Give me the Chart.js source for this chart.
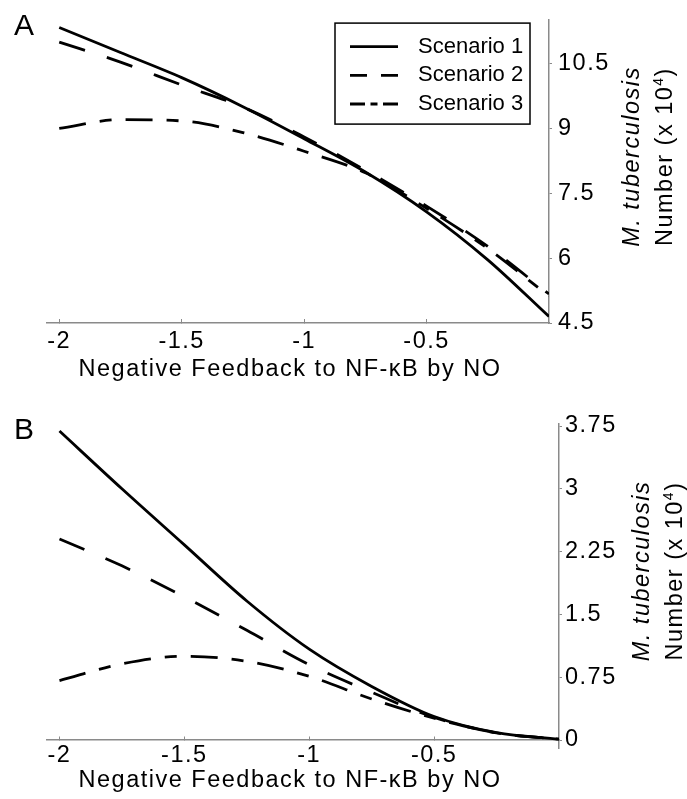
<!DOCTYPE html>
<html>
<head>
<meta charset="utf-8">
<title>M. tuberculosis number vs negative feedback to NF-κB by NO</title>
<script src="https://cdn.jsdelivr.net/npm/chart.js@4/dist/chart.umd.min.js"></script>
<style>
  html, body { margin: 0; padding: 0; background: #fff; }
  #wrap { position: relative; width: 687px; height: 799px; overflow: hidden; background: #fff; }
  canvas { position: absolute; left: 0; }
  #panelA { top: 0; }
  #panelB { top: 400px; }
</style>
</head>
<body>
<div id="wrap">
  <canvas id="panelA" width="687" height="395"></canvas>
  <canvas id="panelB" width="687" height="399"></canvas>
</div>
<script>
// ---- data -------------------------------------------------------------
const feedback = [-2, -1.75, -1.5, -1.25, -1, -0.75, -0.5, -0.25, 0];
const seriesNames = ['Scenario 1', 'Scenario 2', 'Scenario 3'];
const xTicks = [-2, -1.5, -1, -0.5];

// Panel A: bacterial number (x 10^4)
const aScenario1 = [11.33, 10.75, 10.17, 9.50, 8.76, 7.99, 7.07, 5.96, 4.65];
const aScenario2 = [10.99, 10.53, 10.00, 9.49, 8.80, 8.03, 7.20, 6.27, 5.17];
const aScenario3 = [9.00, 9.20, 9.17, 8.90, 8.47, 7.97, 7.15, 6.22, 5.12];
const aYTicks = [4.5, 6, 7.5, 9, 10.5];

// Panel B: bacterial number (x 10^4)
const bScenario1 = [3.69, 3.00, 2.33, 1.66, 1.085, 0.64, 0.28, 0.088, 0.01];
const bScenario2 = [2.40, 2.08, 1.71, 1.31, 0.90, 0.57, 0.27, 0.085, 0.01];
const bScenario3 = [0.71, 0.91, 1.00, 0.94, 0.76, 0.49, 0.26, 0.085, 0.01];
const bYTicks = [0, 0.75, 1.5, 2.25, 3, 3.75];

// ---- styling ----------------------------------------------------------
const FAMILY = '"Liberation Sans", Arial, Helvetica, sans-serif';
const AXIS_COLOR = '#8a8a8a';
const TEXT_SIZE = 23.5;
const TEXT_SPACING = '1.5px';
const lineDash = [[], [27, 23], [27, 14, 12, 14]];
const legendDash = [[], [17, 14], [15, 5.5, 7, 5.5]];
const X_TITLE = 'Negative Feedback to NF-\u03BAB by NO';

Chart.defaults.font.family = FAMILY;
Chart.defaults.color = '#000';

function points(values) {
  return feedback.map((x, i) => ({ x: x, y: values[i] }));
}

function datasets(list) {
  return list.map((values, i) => ({
    label: seriesNames[i],
    data: points(values),
    borderColor: '#000',
    backgroundColor: '#000',
    borderWidth: 2.8,
    borderDash: lineDash[i],
    borderCapStyle: 'butt',
    pointRadius: 0,
    fill: false,
    cubicInterpolationMode: 'monotone'
  }));
}

// Axis titles, panel letter and boxed legend
const decorPlugin = {
  id: 'decor',
  beforeDraw(chart) {
    chart.ctx.letterSpacing = TEXT_SPACING;
  },
  afterDraw(chart, args, opts) {
    const ctx = chart.ctx;
    const area = chart.chartArea;
    const yScale = chart.scales.y;

    // x-axis title, below the tick labels
    ctx.save();
    ctx.letterSpacing = TEXT_SPACING;
    ctx.fillStyle = '#000';
    ctx.font = TEXT_SIZE + 'px ' + FAMILY;
    ctx.textAlign = 'center';
    ctx.textBaseline = 'middle';
    const axisY = opts.xAxisAtZero ? yScale.getPixelForValue(0) : area.bottom;
    ctx.fillText(X_TITLE, area.left + 243, axisY + opts.titleOffset);
    ctx.restore();

    // y-axis title (two rotated lines)
    const yc = (area.top + area.bottom) / 2 - 15;
    ctx.save();
    ctx.letterSpacing = TEXT_SPACING;
    ctx.fillStyle = '#000';
    ctx.translate(yScale.left + 89.5, yc);
    ctx.rotate(-Math.PI / 2);
    ctx.textBaseline = 'alphabetic';
    ctx.textAlign = 'center';
    ctx.font = 'italic ' + TEXT_SIZE + 'px ' + FAMILY;
    ctx.fillText('M. tuberculosis', 0, 0);

    const line2 = 33.5;
    const mainFont = TEXT_SIZE + 'px ' + FAMILY;
    const supFont = '14px ' + FAMILY;
    ctx.textAlign = 'left';
    ctx.font = mainFont;
    const w1 = ctx.measureText('Number (x 10').width;
    const w3 = ctx.measureText(')').width;
    ctx.font = supFont;
    const w2 = ctx.measureText('4').width;
    let cx = -(w1 + w2 + w3) / 2;
    ctx.font = mainFont;
    ctx.fillText('Number (x 10', cx, line2);
    cx += w1;
    ctx.font = supFont;
    ctx.fillText('4', cx, line2 - 9);
    cx += w2;
    ctx.font = mainFont;
    ctx.fillText(')', cx, line2);
    ctx.restore();

    // panel letter
    ctx.save();
    ctx.letterSpacing = '0px';
    ctx.fillStyle = '#000';
    ctx.font = '30px ' + FAMILY;
    ctx.textBaseline = 'alphabetic';
    ctx.textAlign = 'left';
    ctx.fillText(opts.panel, opts.panelX, opts.panelY);
    ctx.restore();

    // legend
    if (opts.legend) {
      const boxW = 195, boxH = 101;
      const left = area.right - 214;
      const top = area.top + 3;
      ctx.save();
      ctx.letterSpacing = '0px';
      ctx.strokeStyle = '#000';
      ctx.lineWidth = 1.5;
      ctx.setLineDash([]);
      ctx.fillStyle = '#fff';
      ctx.fillRect(left, top, boxW, boxH);
      ctx.strokeRect(left, top, boxW, boxH);
      ctx.font = '22px ' + FAMILY;
      ctx.textBaseline = 'middle';
      ctx.textAlign = 'left';
      chart.data.datasets.forEach((ds, i) => {
        const ry = top + 23.5 + i * 28.7;
        ctx.beginPath();
        ctx.setLineDash(legendDash[i]);
        ctx.lineWidth = ds.borderWidth;
        ctx.strokeStyle = ds.borderColor;
        ctx.moveTo(left + 15, ry);
        ctx.lineTo(left + 63, ry);
        ctx.stroke();
        ctx.setLineDash([]);
        ctx.fillStyle = '#000';
        ctx.fillText(ds.label, left + 83, ry);
      });
      ctx.restore();
    }
  }
};

function axisX(extra) {
  return Object.assign({
    type: 'linear',
    min: -2.05,
    max: 0,
    afterBuildTicks: s => { s.ticks = xTicks.map(v => ({ value: v })); },
    border: { display: true, color: AXIS_COLOR, width: 1.5 },
    grid: { display: true, drawOnChartArea: false, drawTicks: true, tickLength: -4, color: AXIS_COLOR, lineWidth: 1 },
    title: { display: false }
  }, extra);
}

function axisY(extra) {
  return Object.assign({
    type: 'linear',
    position: 'right',
    border: { display: true, color: AXIS_COLOR, width: 1.5 },
    grid: { display: true, drawOnChartArea: false, drawTicks: true, tickLength: 3, color: AXIS_COLOR, lineWidth: 1 },
    title: { display: false }
  }, extra);
}

// Panel A
new Chart(document.getElementById('panelA'), {
  type: 'line',
  data: { datasets: datasets([aScenario1, aScenario2, aScenario3]) },
  options: {
    responsive: false,
    animation: false,
    events: [],
    layout: { padding: { left: 47, top: 7, right: 0, bottom: 0 } },
    scales: {
      x: axisX({
        position: 'bottom',
        afterFit: s => { s.height = 72; },
        ticks: { color: '#000', font: { size: TEXT_SIZE }, padding: 8, maxRotation: 0, autoSkip: false, callback: v => String(v) }
      }),
      y: axisY({
        min: 4.5,
        max: 11.5,
        afterBuildTicks: s => { s.ticks = aYTicks.map(v => ({ value: v })); },
        afterFit: s => { s.width = 138; },
        ticks: { color: '#000', font: { size: TEXT_SIZE }, padding: 6, callback: v => String(v) }
      })
    },
    plugins: {
      legend: { display: false },
      tooltip: { enabled: false },
      decor: { panel: 'A', panelX: 14, panelY: 34.5, legend: true, xAxisAtZero: false, titleOffset: 46.5 }
    }
  },
  plugins: [decorPlugin]
});

// Panel B
new Chart(document.getElementById('panelB'), {
  type: 'line',
  data: { datasets: datasets([bScenario1, bScenario2, bScenario3]) },
  options: {
    responsive: false,
    animation: false,
    events: [],
    layout: { padding: { left: 47, top: 24, right: 0, bottom: 51 } },
    scales: {
      x: axisX({
        position: { y: 0 },
        afterFit: s => { s.height = 55; },
        ticks: { color: '#000', font: { size: TEXT_SIZE }, padding: 5, maxRotation: 0, autoSkip: false, callback: v => String(v) }
      }),
      y: axisY({
        min: -0.0955,
        max: 3.774,
        afterBuildTicks: s => { s.ticks = bYTicks.map(v => ({ value: v })); },
        afterFit: s => { s.width = 128; },
        ticks: { color: '#000', font: { size: TEXT_SIZE }, padding: 3, callback: v => String(v) }
      })
    },
    plugins: {
      legend: { display: false },
      tooltip: { enabled: false },
      decor: { panel: 'B', panelX: 14, panelY: 38.5, legend: false, xAxisAtZero: true, titleOffset: 41 }
    }
  },
  plugins: [decorPlugin]
});
</script>
</body>
</html>
